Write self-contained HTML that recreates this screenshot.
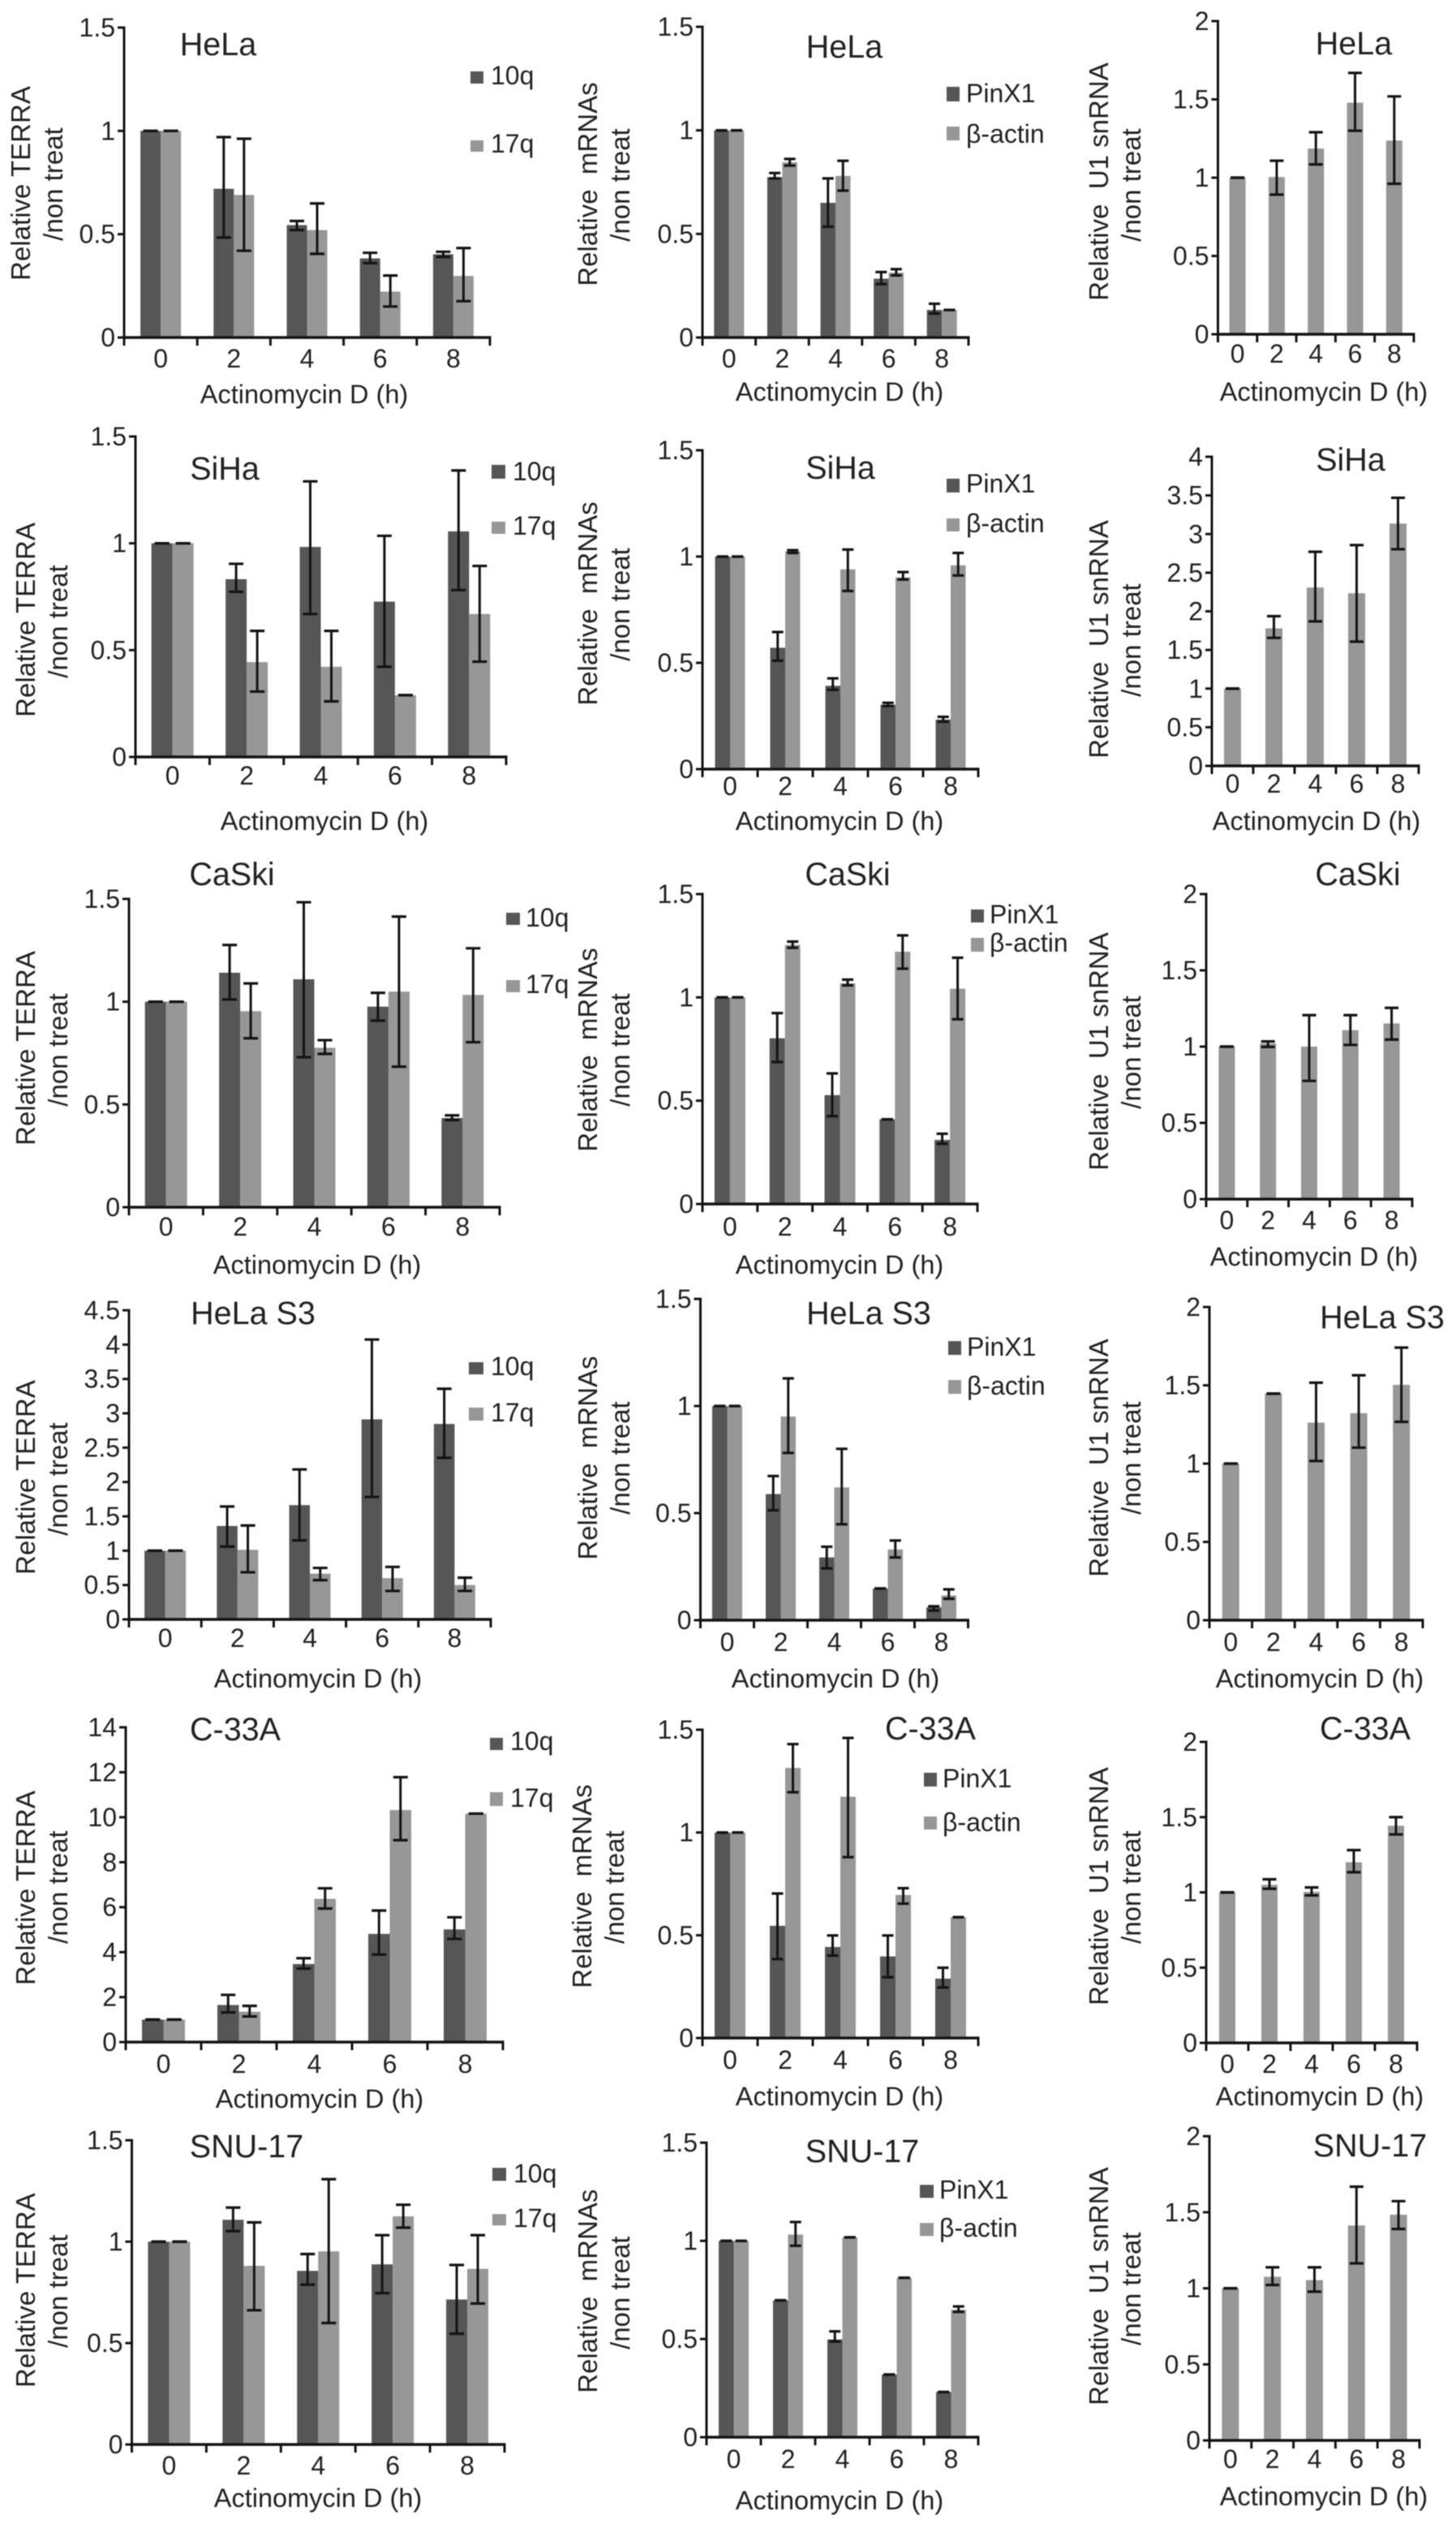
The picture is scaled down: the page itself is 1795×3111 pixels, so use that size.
<!DOCTYPE html>
<html lang="en">
<head>
<meta charset="utf-8">
<title>Actinomycin D time course: TERRA, mRNA and U1 snRNA</title>
<style>
html,body{margin:0;padding:0;background:#fff;}
#figure{display:block;width:1795px;height:3111px;filter:blur(0.5px);}
text{font-family:"Liberation Sans","DejaVu Sans",sans-serif;fill:#222;}
</style>
</head>
<body>
<svg id="figure" xmlns="http://www.w3.org/2000/svg" width="1795" height="3111" viewBox="0 0 1795 3111"></svg>
<script>
const categories = ['0','2','4','6','8'];
const ticks15 = ['0','0.5','1','1.5'];
const ticks2 = ['0','0.5','1','1.5','2'];
const ticks4 = ['0','0.5','1','1.5','2','2.5','3','3.5','4'];
const ticks45 = ['0','0.5','1','1.5','2','2.5','3','3.5','4','4.5'];
const ticks14 = ['0','2','4','6','8','10','12','14'];

/* HeLa */
const helaTerra10q = [1,.72,.544,.383,.403];
const helaTerra10qHigh = [1,.97,.564,.41,.415];
const helaTerra10qLow = [1,.484,.52,.36,.39];
const helaTerra17q = [1,.69,.52,.222,.298];
const helaTerra17qHigh = [1,.962,.649,.30,.433];
const helaTerra17qLow = [1,.42,.405,.15,.176];
const helaPinx1 = [1,.774,.65,.284,.133];
const helaPinx1High = [1,.794,.768,.316,.163];
const helaPinx1Low = [1,.768,.535,.258,.116];
const helaActin = [1,.846,.78,.313,.133];
const helaActinHigh = [1,.862,.853,.33,.133];
const helaActinLow = [1,.83,.709,.30,.133];
const helaU1 = [1,1.004,1.186,1.479,1.237];
const helaU1High = [1,1.108,1.29,1.669,1.519];
const helaU1Low = [1,.892,1.085,1.30,.961];

/* SiHa */
const sihaTerra10q = [1,.832,.983,.727,1.056];
const sihaTerra10qHigh = [1,.904,1.29,1.035,1.341];
const sihaTerra10qLow = [1,.773,.669,.422,.781];
const sihaTerra17q = [1,.444,.422,.289,.669];
const sihaTerra17qHigh = [1,.59,.59,.289,.894];
const sihaTerra17qLow = [1,.306,.26,.289,.446];
const sihaPinx1 = [1,.571,.392,.303,.233];
const sihaPinx1High = [1,.645,.427,.312,.246];
const sihaPinx1Low = [1,.51,.373,.297,.223];
const sihaActin = [1,1.025,.94,.902,.959];
const sihaActinHigh = [1,1.03,1.033,.927,1.017];
const sihaActinLow = [1,1.017,.838,.892,.911];
const sihaU1 = [1,1.78,2.308,2.234,3.136];
const sihaU1High = [1,1.937,2.77,2.857,3.469];
const sihaU1Low = [1,1.657,1.87,1.608,2.804];

/* CaSki */
const caskiTerra10q = [1,1.141,1.109,.976,.434];
const caskiTerra10qHigh = [1,1.276,1.484,1.043,.447];
const caskiTerra10qLow = [1,1.011,.73,.908,.424];
const caskiTerra17q = [1,.954,.776,1.049,1.033];
const caskiTerra17qHigh = [1,1.089,.813,1.414,1.26];
const caskiTerra17qLow = [1,.822,.746,.684,.803];
const caskiPinx1 = [1,.802,.527,.41,.31];
const caskiPinx1High = [1,.924,.632,.41,.34];
const caskiPinx1Low = [1,.687,.425,.41,.292];
const caskiActin = [1,1.254,1.068,1.221,1.042];
const caskiActinHigh = [1,1.27,1.086,1.3,1.192];
const caskiActinLow = [1,1.24,1.058,1.139,.894];
const caskiU1 = [1,1.02,1.0,1.108,1.152];
const caskiU1High = [1,1.034,1.206,1.206,1.254];
const caskiU1Low = [1,.998,.775,1.011,1.046];

/* HeLa S3 */
const helaS3Terra10q = [1,1.36,1.663,2.912,2.845];
const helaS3Terra10qHigh = [1,1.643,2.183,4.074,3.357];
const helaS3Terra10qLow = [1,1.06,1.15,1.781,2.352];
const helaS3Terra17q = [1,1.013,.666,.6,.5];
const helaS3Terra17qHigh = [1,1.367,.749,.764,.607];
const helaS3Terra17qLow = [1,.686,.571,.414,.414];
const helaS3Pinx1 = [1,.589,.293,.148,.06];
const helaS3Pinx1High = [1,.673,.343,.148,.065];
const helaS3Pinx1Low = [1,.513,.242,.148,.045];
const helaS3Actin = [1,.951,.62,.33,.116];
const helaS3ActinHigh = [1,1.129,.8,.372,.144];
const helaS3ActinLow = [1,.781,.448,.293,.1];
const helaS3U1 = [1,1.447,1.262,1.322,1.503];
const helaS3U1High = [1,1.447,1.517,1.564,1.741];
const helaS3U1Low = [1,1.447,1.017,1.102,1.267];

/* C-33A */
const c33aTerra10q = [1,1.65,3.47,4.81,5.01];
const c33aTerra10qHigh = [1,2.1,3.73,5.85,5.55];
const c33aTerra10qLow = [1,1.32,3.27,3.89,4.59];
const c33aTerra17q = [1,1.35,6.37,10.32,10.16];
const c33aTerra17qHigh = [1,1.61,6.84,11.78,10.16];
const c33aTerra17qLow = [1,1.14,5.94,8.98,10.16];
const c33aPinx1 = [1,.546,.443,.397,.289];
const c33aPinx1High = [1,.703,.499,.499,.342];
const c33aPinx1Low = [1,.384,.401,.296,.246];
const c33aActin = [1,1.314,1.174,.696,.588];
const c33aActinHigh = [1,1.43,1.46,.729,.588];
const c33aActinLow = [1,1.196,.88,.654,.588];
const c33aU1 = [1,1.05,1.003,1.2,1.443];
const c33aU1High = [1,1.087,1.033,1.281,1.5];
const c33aU1Low = [1,1.024,.98,1.134,1.385];

/* SNU-17 */
const snu17Terra10q = [1,1.108,.856,.888,.715];
const snu17Terra10qHigh = [1,1.168,.939,1.032,.885];
const snu17Terra10qLow = [1,1.052,.788,.746,.546];
const snu17Terra17q = [1,.881,.952,1.125,.866];
const snu17Terra17qHigh = [1,1.095,1.308,1.182,1.032];
const snu17Terra17qLow = [1,.662,.599,1.069,.695];
const snu17Pinx1 = [1,.697,.498,.319,.23];
const snu17Pinx1High = [1,.697,.539,.319,.23];
const snu17Pinx1Low = [1,.697,.487,.319,.23];
const snu17Actin = [1,1.032,1.018,.812,.649];
const snu17ActinHigh = [1,1.096,1.018,.812,.666];
const snu17ActinLow = [1,.975,1.018,.812,.638];
const snu17U1 = [1,1.076,1.054,1.413,1.484];
const snu17U1High = [1,1.138,1.138,1.668,1.573];
const snu17U1Low = [1,1.022,.978,1.164,1.39];

const DARK = '#565656';
const LIGHT = '#979797';
const INK = '#141414';
const svg = document.getElementById('figure');
const NS = 'http://www.w3.org/2000/svg';

function make(parent, tag, attrs, content) {
  const node = document.createElementNS(NS, tag);
  for (const k in attrs) node.setAttribute(k, attrs[k]);
  if (content !== undefined) node.textContent = content;
  parent.appendChild(node);
  return node;
}

function line(parent, x1, y1, x2, y2, width, name) {
  const el = make(parent, 'line', {x1: x1, y1: y1, x2: x2, y2: y2, stroke: INK, 'stroke-width': width});
  
  
  return el;
}

function label(parent, x, y, size, anchor, str, name, rotate) {
  const attrs = {x: x, y: y, 'font-size': size, 'text-anchor': anchor};
  if (rotate) attrs.transform = 'rotate(-90 ' + x + ' ' + y + ')';
  const el = make(parent, 'text', attrs, str);
  
  
  return el;
}

function drawPanel(p) {
  const g = make(svg, 'g', {});
  
  

  const ymax = parseFloat(p.ticks[p.ticks.length - 1]);
  const yScale = function (v) { return p.base - (v / ymax) * (p.base - p.top); };
  const binW = (p.x1 - p.x0) / categories.length;
  const xCenter = function (i) { return p.x0 + binW * (i + 0.5); };
  const barW = p.barW;
  const nSeries = p.series.length;

  p.series.forEach(function (s, si) {
    s.values.forEach(function (v, i) {
      const left = xCenter(i) - nSeries * barW / 2 + si * barW;
      const y = yScale(v);
      const bar = make(g, 'rect', {x: left, y: y, width: barW, height: p.base - y, fill: s.color});
      
      
    });
  });

  p.series.forEach(function (s, si) {
    s.values.forEach(function (v, i) {
      const cx = xCenter(i) - nSeries * barW / 2 + si * barW + barW / 2;
      const hi = yScale(s.high[i]);
      const lo = yScale(s.low[i]);
      const base = p.id + '-' + s.key + '-error-' + categories[i] + 'h';
      if (hi !== lo) line(g, cx, hi, cx, lo, 3, base + '-stem');
      line(g, cx - p.capW / 2, hi, cx + p.capW / 2, hi, 3.2, base + '-cap-high');
      line(g, cx - p.capW / 2, lo, cx + p.capW / 2, lo, 3.2, base + '-cap-low');
    });
  });

  line(g, p.x0, p.top - 1.5, p.x0, p.base + 10, 3, p.id + '-y-axis');
  line(g, p.x0 - 1.5, p.base, p.x1 + 1.5, p.base, 3.4, p.id + '-x-axis');

  p.ticks.forEach(function (t) {
    const y = yScale(parseFloat(t));
    line(g, p.x0 - 8, y, p.x0, y, 3, p.id + '-y-tick-' + t);
    label(g, p.x0 - 11, y + 11, 32, 'end', t, p.id + '-y-tick-label-' + t);
  });

  for (let i = 0; i <= categories.length; i++) {
    const x = p.x0 + binW * i;
    line(g, x, p.base, x, p.base + 10, 3, p.id + '-x-tick-' + i);
  }
  categories.forEach(function (c, i) {
    label(g, xCenter(i), p.xTickY, 32, 'middle', c, p.id + '-x-tick-label-' + c);
  });

  label(g, p.titleX, p.titleY, 39.5, 'middle', p.title, p.id + '-title');
  label(g, p.xLabelX, p.xLabelY, 32.5, 'middle', 'Actinomycin D (h)', p.id + '-x-axis-title');
  label(g, p.yLabelX + 12, p.yLabelY, 33, 'middle', p.yLabel, p.id + '-y-axis-title', true);
  label(g, p.yLabelX + 52, p.yLabelY2, 33, 'middle', '/non treat', p.id + '-y-axis-subtitle', true);

  if (p.legend) {
    p.series.forEach(function (s, si) {
      const entry = p.legend[si];
      const lg = make(g, 'g', {});
      
      
      const sw = make(lg, 'rect', {x: entry.sx, y: entry.sy, width: entry.sw, height: entry.sh, fill: s.color});
      
      
      label(lg, entry.tx, entry.ty, 32, 'start', s.name, p.id + '-legend-label-' + s.key);
    });
  }
}

function terra(a, ah, al, b, bh, bl) {
  return [
    {key: '10q', name: '10q', color: DARK, values: a, high: ah, low: al},
    {key: '17q', name: '17q', color: LIGHT, values: b, high: bh, low: bl}
  ];
}
function mrna(a, ah, al, b, bh, bl) {
  return [
    {key: 'pinx1', name: 'PinX1', color: DARK, values: a, high: ah, low: al},
    {key: 'beta-actin', name: '\u03B2-actin', color: LIGHT, values: b, high: bh, low: bl}
  ];
}
function u1(a, ah, al) {
  return [{key: 'u1', name: 'U1', color: LIGHT, values: a, high: ah, low: al}];
}
function legend(sx, sw, tx, sy1, sh1, ty1, sy2, sh2, ty2) {
  return [
    {sx: sx, sw: sw, tx: tx, sy: sy1, sh: sh1, ty: ty1},
    {sx: sx, sw: sw, tx: tx, sy: sy2, sh: sh2, ty: ty2}
  ];
}

const TERRA_LABEL = 'Relative TERRA';
const MRNA_LABEL = 'Relative \u00A0mRNAs';
const U1_LABEL = 'Relative \u00A0U1 snRNA';

/* Row 1 */
drawPanel({id:'hela-terra',title:'HeLa',x0:153,x1:604,top:34,base:416,ticks:ticks15,barW:25,capW:18,xTickY:453,titleX:269,titleY:68,xLabelX:375,xLabelY:497,yLabel:TERRA_LABEL,yLabelX:25,yLabelY:226,yLabelY2:227,
  legend:legend(580,16,605,88,15,104,173,14,188),
  series:terra(helaTerra10q,helaTerra10qHigh,helaTerra10qLow,helaTerra17q,helaTerra17qHigh,helaTerra17qLow)});
drawPanel({id:'hela-mrna',title:'HeLa',x0:866,x1:1194,top:33,base:416,ticks:ticks15,barW:18.5,capW:14,xTickY:453,titleX:1041,titleY:71,xLabelX:1035,xLabelY:494,yLabel:MRNA_LABEL,yLabelX:724,yLabelY:227,yLabelY2:228,
  legend:legend(1167,16,1191,107,18,126,156,17,176),
  series:mrna(helaPinx1,helaPinx1High,helaPinx1Low,helaActin,helaActinHigh,helaActinLow)});
drawPanel({id:'hela-u1',title:'HeLa',x0:1501.5,x1:1743,top:26,base:412,ticks:ticks2,barW:20,capW:17,xTickY:447,titleX:1669,titleY:67,xLabelX:1632,xLabelY:494,yLabel:U1_LABEL,yLabelX:1354,yLabelY:224,yLabelY2:228,
  series:u1(helaU1,helaU1High,helaU1Low)});

/* Row 2 */
drawPanel({id:'siha-terra',title:'SiHa',x0:167,x1:624,top:538,base:933,ticks:ticks15,barW:26,capW:18,xTickY:967,titleX:277,titleY:591,xLabelX:400,xLabelY:1023,yLabel:TERRA_LABEL,yLabelX:31,yLabelY:764,yLabelY2:766,
  legend:legend(606,17,632,573,17,592,643,15,659),
  series:terra(sihaTerra10q,sihaTerra10qHigh,sihaTerra10qLow,sihaTerra17q,sihaTerra17qHigh,sihaTerra17qLow)});
drawPanel({id:'siha-mrna',title:'SiHa',x0:866,x1:1206,top:555,base:948,ticks:ticks15,barW:18.5,capW:14,xTickY:980,titleX:1036,titleY:590,xLabelX:1035,xLabelY:1023,yLabel:MRNA_LABEL,yLabelX:724,yLabelY:744,yLabelY2:745,
  legend:legend(1167,16,1191,590,17,607,639,16,656),
  series:mrna(sihaPinx1,sihaPinx1High,sihaPinx1Low,sihaActin,sihaActinHigh,sihaActinLow)});
drawPanel({id:'siha-u1',title:'SiHa',x0:1494,x1:1749,top:563,base:944,ticks:ticks4,barW:21,capW:17,xTickY:977,titleX:1665,titleY:580,xLabelX:1623,xLabelY:1023,yLabel:U1_LABEL,yLabelX:1354,yLabelY:788,yLabelY2:789,
  series:u1(sihaU1,sihaU1High,sihaU1Low)});

/* Row 3 */
drawPanel({id:'caski-terra',title:'CaSki',x0:159,x1:616,top:1108,base:1488,ticks:ticks15,barW:26,capW:18,xTickY:1523,titleX:286,titleY:1091,xLabelX:391,xLabelY:1570,yLabel:TERRA_LABEL,yLabelX:31,yLabelY:1292,yLabelY2:1294,
  legend:legend(624,17,648,1125,15,1142,1208,15,1224),
  series:terra(caskiTerra10q,caskiTerra10qHigh,caskiTerra10qLow,caskiTerra17q,caskiTerra17qHigh,caskiTerra17qLow)});
drawPanel({id:'caski-mrna',title:'CaSki',x0:866,x1:1205,top:1102,base:1484,ticks:ticks15,barW:19,capW:14,xTickY:1523,titleX:1045,titleY:1091,xLabelX:1035,xLabelY:1570,yLabel:MRNA_LABEL,yLabelX:724,yLabelY:1294,yLabelY2:1294,
  legend:legend(1197,16,1220,1121,16,1138,1156,17,1173),
  series:mrna(caskiPinx1,caskiPinx1High,caskiPinx1Low,caskiActin,caskiActinHigh,caskiActinLow)});
drawPanel({id:'caski-u1',title:'CaSki',x0:1487,x1:1741,top:1102,base:1478,ticks:ticks2,barW:20,capW:17,xTickY:1515,titleX:1674,titleY:1091,xLabelX:1620,xLabelY:1560,yLabel:U1_LABEL,yLabelX:1354,yLabelY:1296,yLabelY2:1297,
  series:u1(caskiU1,caskiU1High,caskiU1Low)});

/* Row 4 */
drawPanel({id:'hela-s3-terra',title:'HeLa S3',x0:159,x1:605,top:1615,base:1996,ticks:ticks45,barW:25.5,capW:18,xTickY:2030,titleX:312,titleY:1632,xLabelX:392,xLabelY:2080,yLabel:TERRA_LABEL,yLabelX:31,yLabelY:1821,yLabelY2:1823,
  legend:legend(578,18,605,1679,15,1695,1735,16,1752),
  series:terra(helaS3Terra10q,helaS3Terra10qHigh,helaS3Terra10qLow,helaS3Terra17q,helaS3Terra17qHigh,helaS3Terra17qLow)});
drawPanel({id:'hela-s3-mrna',title:'HeLa S3',x0:863.5,x1:1193.5,top:1601,base:1997,ticks:ticks15,barW:18.5,capW:14,xTickY:2035,titleX:1071,titleY:1632,xLabelX:1030,xLabelY:2080,yLabel:MRNA_LABEL,yLabelX:724,yLabelY:1797,yLabelY2:1797,
  legend:legend(1169,16,1192,1653,17,1671,1701,17,1719),
  series:mrna(helaS3Pinx1,helaS3Pinx1High,helaS3Pinx1Low,helaS3Actin,helaS3ActinHigh,helaS3ActinLow)});
drawPanel({id:'hela-s3-u1',title:'HeLa S3',x0:1491,x1:1754,top:1611,base:1997,ticks:ticks2,barW:21,capW:17,xTickY:2035,titleX:1704,titleY:1637,xLabelX:1627,xLabelY:2080,yLabel:U1_LABEL,yLabelX:1354,yLabelY:1797,yLabelY2:1797,
  series:u1(helaS3U1,helaS3U1High,helaS3U1Low)});

/* Row 5 */
drawPanel({id:'c33a-terra',title:'C-33A',x0:155,x1:620,top:2129,base:2517,ticks:ticks14,barW:26.5,capW:18,xTickY:2555,titleX:290,titleY:2145,xLabelX:394,xLabelY:2598,yLabel:TERRA_LABEL,yLabelX:31,yLabelY:2327,yLabelY2:2326,
  legend:legend(604,16,629,2142,15,2157,2209,17,2227),
  series:terra(c33aTerra10q,c33aTerra10qHigh,c33aTerra10qLow,c33aTerra17q,c33aTerra17qHigh,c33aTerra17qLow)});
drawPanel({id:'c33a-mrna',title:'C-33A',x0:866,x1:1206,top:2132,base:2512,ticks:ticks15,barW:19,capW:14,xTickY:2550,titleX:1147,titleY:2144,xLabelX:1035,xLabelY:2595,yLabel:MRNA_LABEL,yLabelX:717,yLabelY:2325,yLabelY2:2326,
  legend:legend(1139,16,1162,2185,17,2203,2239,16,2257),
  series:mrna(c33aPinx1,c33aPinx1High,c33aPinx1Low,c33aActin,c33aActinHigh,c33aActinLow)});
drawPanel({id:'c33a-u1',title:'C-33A',x0:1487,x1:1747,top:2147,base:2518,ticks:ticks2,barW:20,capW:17,xTickY:2555,titleX:1683,titleY:2144,xLabelX:1627,xLabelY:2595,yLabel:U1_LABEL,yLabelX:1354,yLabelY:2325,yLabelY2:2326,
  series:u1(c33aU1,c33aU1High,c33aU1Low)});

/* Row 6 */
drawPanel({id:'snu17-terra',title:'SNU-17',x0:162.5,x1:622,top:2638,base:3013,ticks:ticks15,barW:26,capW:18,xTickY:3050,titleX:304,titleY:2659,xLabelX:392,xLabelY:3090,yLabel:TERRA_LABEL,yLabelX:31,yLabelY:2823,yLabelY2:2824,
  legend:legend(607,17,633,2672,16,2690,2729,14,2745),
  series:terra(snu17Terra10q,snu17Terra10qHigh,snu17Terra10qLow,snu17Terra17q,snu17Terra17qHigh,snu17Terra17qLow)});
drawPanel({id:'snu17-mrna',title:'SNU-17',x0:871,x1:1206,top:2641,base:3004,ticks:ticks15,barW:18.5,capW:14,xTickY:3042,titleX:1063,titleY:2665,xLabelX:1035,xLabelY:3093,yLabel:MRNA_LABEL,yLabelX:724,yLabelY:2824,yLabelY2:2826,
  legend:legend(1134,17,1158,2693,16,2710,2740,16,2757),
  series:mrna(snu17Pinx1,snu17Pinx1High,snu17Pinx1Low,snu17Actin,snu17ActinHigh,snu17ActinLow)});
drawPanel({id:'snu17-u1',title:'SNU-17',x0:1491,x1:1750,top:2633,base:3008,ticks:ticks2,barW:21,capW:17,xTickY:3042,titleX:1689,titleY:2658,xLabelX:1632,xLabelY:3088,yLabel:U1_LABEL,yLabelX:1354,yLabelY:2818,yLabelY2:2821,
  series:u1(snu17U1,snu17U1High,snu17U1Low)});
</script>
</body>
</html>
